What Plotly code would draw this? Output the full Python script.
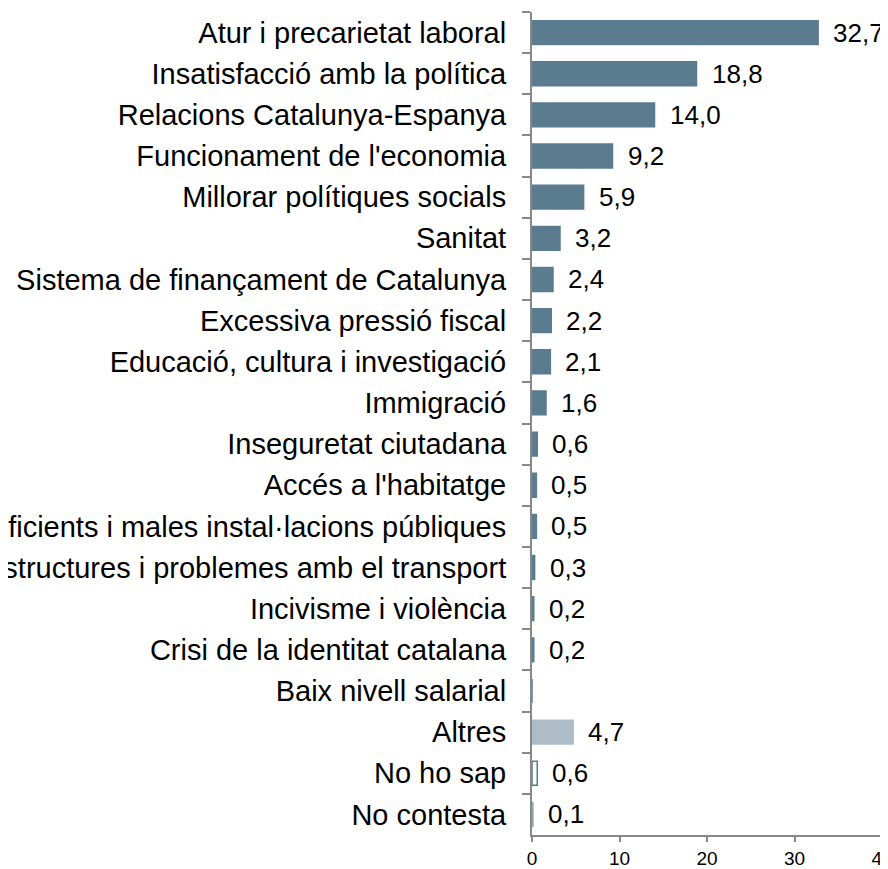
import plotly.graph_objects as go

categories = [
    "Atur i precarietat laboral",
    "Insatisfacció amb la política",
    "Relacions Catalunya-Espanya",
    "Funcionament de l'economia",
    "Millorar polítiques socials",
    "Sanitat",
    "Sistema de finançament de Catalunya",
    "Excessiva pressió fiscal",
    "Educació, cultura i investigació",
    "Immigració",
    "Inseguretat ciutadana",
    "Accés a l'habitatge",
    "Deficients i males instal·lacions públiques",
    "Infraestructures i problemes amb el transport",
    "Incivisme i violència",
    "Crisi de la identitat catalana",
    "Baix nivell salarial",
    "Altres",
    "No ho sap",
    "No contesta",
]
values = [32.7, 18.8, 14.0, 9.2, 5.9, 3.2, 2.4, 2.2, 2.1, 1.6,
          0.6, 0.5, 0.5, 0.3, 0.2, 0.2, None, 4.7, 0.6, 0.1]
x_ticks = [0, 10, 20, 30, 40]

MAIN = "#5B7B8F"
fills = [MAIN] * 17 + ["#ADBCC7", "#FFFFFF", "#8FA6B5"]
lines = [MAIN] * 17 + ["#ADBCC7", MAIN, "#8FA6B5"]

FONT = "Liberation Sans, Arial, sans-serif"

fig = go.Figure()
fig.add_trace(go.Bar(
    y=categories,
    x=[v if v is not None else 0 for v in values],
    orientation="h",
    marker=dict(color=fills, line=dict(color=lines, width=1.5)),
    hoverinfo="skip",
))

for c, v in zip(categories, values):
    if v is None:
        continue
    fig.add_annotation(
        x=v, y=c, xref="x", yref="y",
        text=f"{v:.1f}".replace(".", ","),
        showarrow=False, xanchor="left", xshift=13,
        font=dict(family=FONT, size=26, color="#000000"),
    )

# the page body has an 8px margin; size the figure so the plot area lands
# at the same page pixels as the reference (x 532..882, y 12..835)
fig.update_layout(
    width=880, height=861,
    margin=dict(l=524, r=6, t=4, b=34),
    plot_bgcolor="white", paper_bgcolor="white",
    bargap=0.42,
    showlegend=False,
    font=dict(family=FONT, color="#000000"),
)
fig.update_yaxes(
    categoryorder="array", categoryarray=categories, autorange="reversed",
    showline=True, linecolor="#888888", linewidth=2,
    ticks="outside", tickson="boundaries", ticklen=8, tickcolor="#888888", tickwidth=2,
    tickfont=dict(family=FONT, size=29, color="#000000"),
    showgrid=False, ticklabelstandoff=18, automargin=False,
)
fig.update_xaxes(
    range=[0, 40], tickvals=x_ticks,
    showline=True, linecolor="#888888", linewidth=2,
    ticks="outside", ticklen=5, tickcolor="#888888", tickwidth=2,
    tickfont=dict(family=FONT, size=19, color="#000000"),
    ticklabeloverflow="allow",
    showgrid=False, zeroline=False, automargin=False,
)

fig.write_html("out.html")
